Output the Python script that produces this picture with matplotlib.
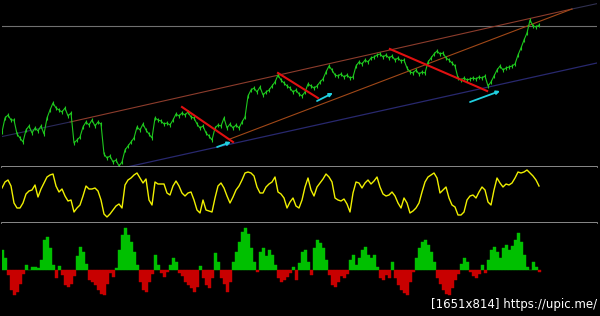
import numpy as np
import matplotlib
matplotlib.use("Agg")
import matplotlib.pyplot as plt

# price (height above bottom of main panel), one value per bar
price = [35, 49, 52, 47, 47, 33, 29, 25, 37, 41,
         34, 39, 36, 41, 33, 49, 57, 64, 59, 57,
         55, 59, 51, 54, 24, 27, 30, 40, 45, 42,
         47, 41, 45, 43, 13, 9, 11, 5, 7, 1,
         5, 17, 21, 25, 29, 40, 37, 43, 37, 33,
         29, 49, 47, 46, 43, 44, 42, 47, 53, 51,
         54, 52, 55, 50, 49, 43, 39, 41, 34, 31,
         27, 39, 42, 41, 49, 39, 43, 39, 42, 39,
         45, 50, 71, 77, 79, 75, 80, 72, 75, 77,
         81, 85, 92, 87, 84, 81, 79, 75, 77, 73,
         71, 75, 83, 81, 79, 81, 85, 88, 95, 101,
         97, 92, 91, 93, 90, 92, 89, 90, 101, 105,
         103, 107, 105, 109, 110, 112, 113, 110, 112, 109,
         111, 107, 109, 106, 107, 99, 95, 94, 97, 93,
         95, 94, 105, 109, 113, 116, 113, 114, 109, 107,
         104, 101, 89, 87, 89, 87, 88, 89, 88, 90,
         89, 91, 81, 85, 91, 97, 101, 97, 99, 100,
         101, 103, 112, 119, 127, 134, 147, 141, 140, 142]

# oscillator (height above bottom of middle panel)
osc = [35, 41, 43, 37, 20, 15, 15, 20, 29, 32,
       33, 38, 26, 34, 40, 46, 48, 49, 37, 31,
       34, 27, 22, 23, 11, 15, 18, 27, 37, 34,
       34, 35, 32, 23, 9, 6, 9, 13, 17, 19,
       15, 38, 43, 45, 48, 50, 45, 40, 44, 23,
       18, 41, 39, 39, 39, 30, 28, 37, 42, 37,
       30, 27, 30, 31, 23, 13, 10, 23, 13, 12,
       11, 25, 37, 40, 35, 27, 20, 26, 33, 37,
       43, 50, 51, 50, 47, 36, 30, 30, 36, 39,
       41, 46, 31, 29, 25, 15, 21, 25, 17, 15,
       23, 36, 45, 33, 27, 36, 40, 44, 49, 46,
       41, 25, 23, 22, 24, 19, 11, 30, 41, 40,
       35, 40, 43, 39, 42, 46, 36, 29, 27, 28,
       31, 27, 20, 15, 25, 20, 10, 12, 15, 20,
       31, 41, 46, 48, 50, 45, 30, 33, 36, 25,
       18, 16, 8, 8, 11, 23, 27, 28, 25, 31,
       36, 33, 21, 18, 33, 45, 40, 36, 39, 38,
       40, 45, 51, 50, 51, 53, 50, 47, 43, 37]

# histogram
hist = [20, 12, -5, -20, -25, -22, -14, -4, 5, 0,
        3, 3, 2, 10, 30, 33, 22, 5, -8, 4,
        -5, -15, -17, -14, -6, 14, 23, 18, 6, -10,
        -12, -15, -20, -24, -25, -14, -3, -7, 2, 20,
        35, 42, 35, 28, 18, 5, -12, -20, -22, -12,
        -4, 15, 5, -3, -7, -2, 5, 12, 8, -3,
        -6, -12, -15, -18, -22, -17, 4, -8, -15, -18,
        -8, 17, 8, -8, -14, -22, -12, 8, 18, 28,
        38, 42, 36, 22, 8, -2, 18, 22, 14, 20,
        15, 5, -8, -12, -10, -7, -3, 3, -10, 7,
        18, 20, 8, -5, 22, 30, 27, 22, 10, -5,
        -15, -17, -12, -6, -8, -4, 10, 15, 5, 12,
        20, 23, 15, 12, 15, 3, -8, -10, -5, -8,
        8, -8, -15, -20, -23, -25, -12, -2, 12, 22,
        28, 30, 25, 18, 8, -8, -14, -20, -24, -25,
        -18, -10, -4, 6, 12, 8, -2, -6, -8, -4,
        5, -3, 10, 20, 23, 18, 12, 22, 25, 20,
        24, 30, 37, 28, 15, 3, 0, 8, 3, -2]

# trend lines (bar, level)
upper_line = [(22.7, 45), (190, 158)]
upper_left = [(-0.7, 30), (22.7, 45)]
upper_ext = [(190, 158), (199.3, 164)]
mid_line = [(76, 28), (190, 158)]
low_line = [(41.7, 0), (198.3, 104)]
red_lines = [[(60, 60), (77, 25)], [(92, 94), (105.3, 69)], [(129.3, 118), (161.7, 76)]]
cyan_arrows = [[(71.7, 20), (76.3, 25)], [(105, 66), (110.3, 74)], [(156, 65), (166, 76)]]
level = 141

green = "#1ec81e"
x = np.arange(len(price))

fig = plt.figure(figsize=(6, 3.16), dpi=100, facecolor="black")
L, W = 2 / 600, 595 / 600
ax1 = fig.add_axes([L, 149 / 316, W, 167 / 316])
ax2 = fig.add_axes([L, 93 / 316, W, 56 / 316])
ax3 = fig.add_axes([L, 0, W, 93 / 316])

for ax in (ax1, ax2, ax3):
    ax.set_facecolor("black")
    ax.set_xlim(0, 198.33)
    ax.set_xticks([])
    ax.set_yticks([])
    for s in ax.spines.values():
        s.set_visible(False)
for ax in (ax1, ax2):
    ax.spines["bottom"].set_visible(True)
    ax.spines["bottom"].set_color("#a0a0a0")
    ax.spines["bottom"].set_linewidth(1.2)

# main panel
ax1.set_ylim(0, 167)
ax1.axhline(level, color="#707070", lw=0.8)
ax1.plot(*zip(*upper_left), color="#2a2a5a", lw=0.8)
ax1.plot(*zip(*upper_line), color="#8c3c2c", lw=0.8)
ax1.plot(*zip(*upper_ext), color="#303050", lw=0.8)
ax1.plot(*zip(*mid_line), color="#a04818", lw=0.8)
ax1.plot(*zip(*low_line), color="#28286e", lw=0.9)
ax1.plot(x, price, color=green, lw=0.8)
ax1.vlines(x, np.array(price) - 2, np.array(price) + 2, color=green, lw=0.8)
for seg in red_lines:
    ax1.plot(*zip(*seg), color="#e01010", lw=1.5)
for (x0, y0), (x1, y1) in cyan_arrows:
    ax1.annotate("", xy=(x1, y1), xytext=(x0, y0),
                 arrowprops=dict(arrowstyle="-|>", color="#20d0e0", lw=1.3,
                                 mutation_scale=5, shrinkA=0, shrinkB=0))

# oscillator
ax2.set_ylim(0, 56)
ax2.plot(x, osc, color="#f0f000", lw=1.0)

# histogram
ax3.set_ylim(-46, 47)
h = np.array(hist)
cols = np.where(h >= 0, "#00c000", "#c80000")
ax3.bar(x, h, width=1.0, color=cols, edgecolor=cols, linewidth=0.3)

fig.text(597 / 600, 5 / 316, "[1651x814] https://upic.me/", color="white",
         fontsize=8.5, ha="right", va="bottom")

fig.savefig("out.png", dpi=100, facecolor="black")
